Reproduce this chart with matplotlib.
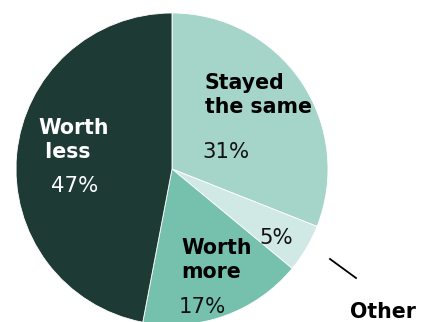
import matplotlib.pyplot as plt
from matplotlib import rcParams

rcParams['font.family'] = 'DejaVu Sans'

labels = ['Stayed\nthe same', 'Other', 'Worth\nmore', 'Worth\n less']
shares = [31, 5, 17, 47]
pct_labels = ['31%', '5%', '17%', '47%']
colors = ['#a5d4c8', '#d0e9e4', '#76c0ae', '#1e3a34']

W, H = 421, 322
cx, cy, r = 172, 169, 156


def px(x, y):
    # pixel position (from top-left) -> data coords of a unit pie
    return (x - cx) / r, (cy - y) / r


fig = plt.figure(figsize=(W / 100, H / 100), dpi=100)
ax = fig.add_axes([0, 0, 1, 1])
ax.pie(shares, colors=colors, startangle=90, counterclock=False, radius=1,
       wedgeprops=dict(edgecolor='white', linewidth=0.6))
ax.set_xlim(px(0, 0)[0], px(W, 0)[0])
ax.set_ylim(px(0, H)[1], px(0, 0)[1])
ax.set_aspect('auto')
ax.axis('off')

bold = dict(fontsize=14.8, fontweight='bold', ha='left', va='center', linespacing=1.22)
num = dict(fontsize=15.3, ha='left', va='center')

ax.text(*px(205, 95), labels[0], color='black', **bold)
ax.text(*px(202, 152), pct_labels[0], color='#111111', **num)

ax.text(*px(259, 238), pct_labels[1], color='#111111', **num)
ax.text(*px(350, 312), labels[1], color='black', **bold)
ax.plot(*zip(px(330, 259), px(356, 278)), color='black', lw=1.3)

ax.text(*px(181, 260), labels[2], color='black', **bold)
ax.text(*px(179, 307), pct_labels[2], color='#111111', **num)

ax.text(*px(38, 140), labels[3], color='white', **bold)
ax.text(*px(51, 186), pct_labels[3], color='white', **num)

fig.savefig('out.png', dpi=100)
